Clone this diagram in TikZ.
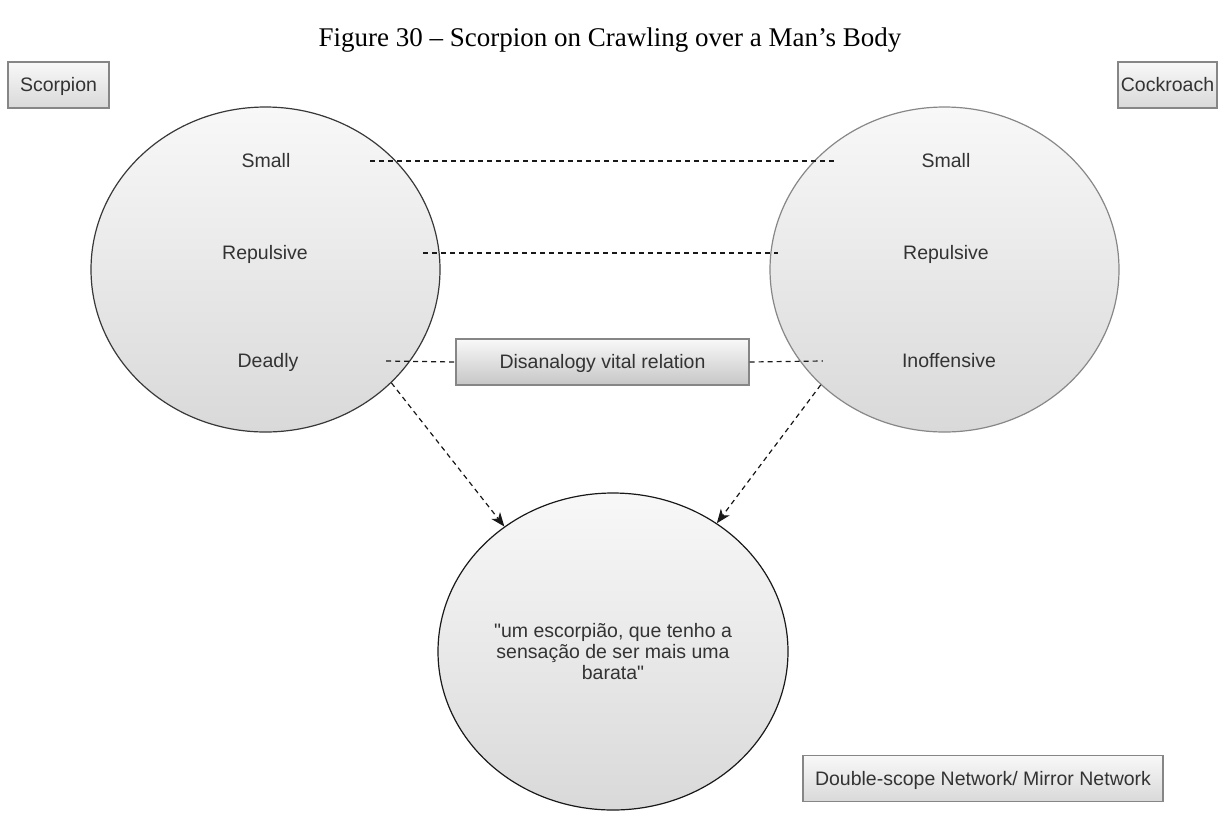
\documentclass[tikz,border=0pt]{standalone}
\usepackage{fontspec}
\setmainfont{Liberation Serif}
\newfontfamily\drawfont{Liberation Sans}
\usepackage{xcolor}
\usepackage{tikz}
\usetikzlibrary{shapes.geometric, arrows.meta}
\definecolor{inktext}{HTML}{333333}
\definecolor{shadetop}{HTML}{F8F8F8}
\definecolor{shadebot}{HTML}{D9D9D9}
\definecolor{boxbot}{HTML}{C6C6C6}
\newcommand{\dfont}{\drawfont\fontsize{19.5}{21}\selectfont}

\begin{document}
\begin{tikzpicture}[x=1pt, y=1pt,
  space/.style={ellipse, inner sep=0pt, line width=1.2pt,
    top color=shadetop, bottom color=shadebot},
  tag/.style={rectangle, inner sep=0pt, draw=gray!95, line width=1.3pt,
    top color=shadetop, bottom color=shadebot, font=\dfont, text=inktext,
    text height=13.6pt, text depth=0pt, minimum height=46pt},
  trait/.style={inner sep=0pt, font=\dfont, text=inktext,
    text height=13.6pt, text depth=0pt},
  link/.style={dash pattern=on 5pt off 4pt, line width=1.2pt, black!90},
  proj/.style={link, -{Stealth[length=14pt, width=11pt, inset=4pt]}}]
  \useasboundingbox (0,0) rectangle (1220,-812);
  \node[font=\fontsize{27}{32}\selectfont, text height=18pt, text depth=0pt]
    (title) at (610,-37) {Figure 30 – Scorpion on Crawling over a Man’s Body};
  \node[tag, minimum width=101pt] (lscorp) at (58.5,-85) {Scorpion};
  \node[tag, minimum width=99pt] (lroach) at (1167.5,-85) {Cockroach};
  \node[tag, minimum width=360pt] (lnet) at (983,-778.5) {Double-scope Network/ Mirror Network};
  \node[space, draw=black!78, minimum width=349pt, minimum height=325pt]
    (scorp) at (265.5,-269.5) {};
  \node[space, draw=black!47, minimum width=349pt, minimum height=325pt]
    (roach) at (944.5,-269.5) {};
  \node[space, draw=black!90, minimum width=350pt, minimum height=317pt,
    font=\dfont, text=inktext, align=center]
    (blend) at (613,-651.5) {"um escorpião, que tenho a\\sensação de ser mais uma\\barata"};
  \node[trait, minimum width=208pt] (sSmall) at (266,-161) {Small};
  \node[trait, minimum width=316pt] (sRepul) at (265,-253) {Repulsive};
  \node[trait, minimum width=236pt] (sDeadly) at (268,-361) {Deadly};
  \node[trait, minimum width=222pt] (cSmall) at (946,-161) {Small};
  \node[trait, minimum width=336pt] (cRepul) at (946,-253) {Repulsive};
  \node[trait, minimum width=252pt] (cInoff) at (949,-361) {Inoffensive};
  \node[tag, top color=shadetop!90!white, bottom color=boxbot, minimum width=293pt]
    (vital) at (602.5,-362) {Disanalogy vital relation};
  \draw[link] (sSmall.east) -- (cSmall.west);
  \draw[link] (sRepul.east) -- (cRepul.west);
  \draw[link] (sDeadly.east) -- (vital.west);
  \draw[link] (vital.east) -- (cInoff.west);
  \draw[proj] (scorp.-42) -- (blend.131);
  \draw[proj] (roach.-137) -- (blend.51);
\end{tikzpicture}
\end{document}
